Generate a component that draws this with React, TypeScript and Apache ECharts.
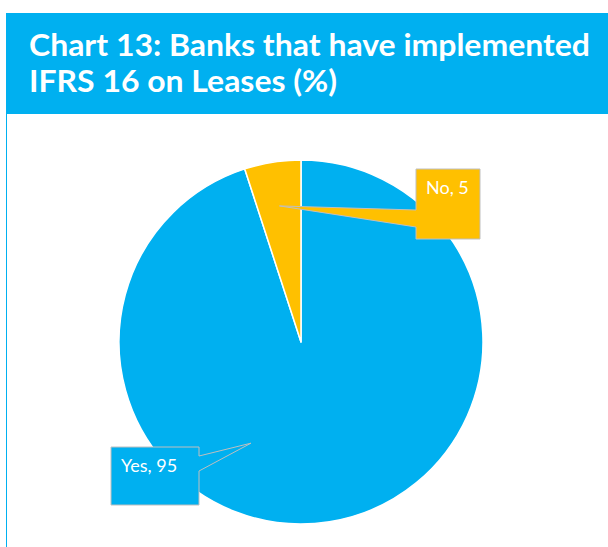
import React, { useEffect, useRef } from "react";
import * as echarts from "echarts";

// ---- data ----
const categories = ["Yes", "No"];
const values = [95, 5];
const colors = ["#00B0F0", "#FFC000"];
const titleLines = ["Chart 13: Banks that have implemented", "IFRS 16 on Leases (%)"];

// ---- layout ----
const W = 608;
const H = 547;
const CX = 301;
const CY = 342;
const R = 182;
const BLUE = "#00B0F0";
const FONT = "Lato, 'Open Sans', sans-serif";
const TITLE_X = 29;
const TITLE_Y0 = 44;
const TITLE_STEP = 36;
const TITLE_SIZE = 30;
const TITLE_STRETCH = 1.065;

// callout layout: box rect, side where wedge attaches, attach offsets, tip polar (deg, fraction of R)
const calloutLayout = [
  { box: [111, 447, 88, 58], side: "right", a1: 9, a2: 24, tipAngle: 243.7, tipR: 0.62 },
  { box: [416, 169, 64, 70], side: "left", a1: 41, a2: 58, tipAngle: null as number | null, tipR: 0.757 },
];

function midAngles(): number[] {
  const total = values.reduce((a, b) => a + b, 0);
  let start = 90;
  return values.map((v) => {
    const sweep = (v / total) * 360;
    const mid = start - sweep / 2;
    start -= sweep;
    return mid;
  });
}

export default function App() {
  const ref = useRef<HTMLDivElement>(null);
  useEffect(() => {
    if (!ref.current) return;
    const chart = echarts.init(ref.current, undefined, { renderer: "svg" });
    const mids = midAngles();

    const calloutGraphics: any[] = [];
    categories.forEach((name, i) => {
      const L = calloutLayout[i];
      const [bx, by, bw, bh] = L.box;
      const ang = L.tipAngle != null ? L.tipAngle : mids[i];
      const rad = (ang * Math.PI) / 180;
      const tx = CX + Math.cos(rad) * R * L.tipR;
      const ty = CY - Math.sin(rad) * R * L.tipR;
      let pts: number[][];
      if (L.side === "left") {
        pts = [
          [bx, by], [bx + bw, by], [bx + bw, by + bh], [bx, by + bh],
          [bx, by + L.a2], [tx, ty], [bx, by + L.a1],
        ];
      } else {
        pts = [
          [bx, by], [bx + bw, by], [bx + bw, by + L.a1], [tx, ty],
          [bx + bw, by + L.a2], [bx + bw, by + bh], [bx, by + bh],
        ];
      }
      calloutGraphics.push({
        type: "polygon",
        z: 100,
        shape: { points: pts },
        style: { fill: colors[i], stroke: "#BFBFBF", lineWidth: 1 },
      });
      calloutGraphics.push({
        type: "text",
        z: 101,
        x: bx + 10,
        y: by + 9,
        style: {
          text: `${name}, ${values[i]}`,
          fill: "#FFFFFF",
          font: `18px ${FONT}`,
        },
      });
    });

    const titleGraphics = titleLines.map((line, i) => ({
      type: "text",
      z: 5,
      x: TITLE_X,
      y: TITLE_Y0 + i * TITLE_STEP,
      scaleX: TITLE_STRETCH,
      style: {
        text: line,
        fill: "#FFFFFF",
        font: `bold ${TITLE_SIZE}px ${FONT}`,
        verticalAlign: "middle",
      },
    }));

    chart.setOption({
      animation: false,
      graphic: [
        { type: "rect", z: -10, shape: { x: 6, y: 13, width: W - 6, height: 101 }, style: { fill: BLUE } },
        { type: "line", z: -10, shape: { x1: 6.5, y1: 114, x2: 6.5, y2: H }, style: { stroke: BLUE, lineWidth: 1 } },
        ...titleGraphics,
        ...calloutGraphics,
      ],
      series: [
        {
          type: "pie",
          center: [CX, CY],
          radius: R,
          startAngle: 90,
          clockwise: true,
          silent: true,
          label: { show: false },
          labelLine: { show: false },
          emphasis: { disabled: true },
          itemStyle: { borderColor: "#FFFFFF", borderWidth: 1.5 },
          data: categories.map((name, i) => ({
            name,
            value: values[i],
            itemStyle: { color: colors[i] },
          })),
        },
      ],
    });
    return () => chart.dispose();
  }, []);
  return (
    <div
      ref={ref}
      style={{ position: "absolute", left: 0, top: 0, width: W, height: H }}
    />
  );
}
